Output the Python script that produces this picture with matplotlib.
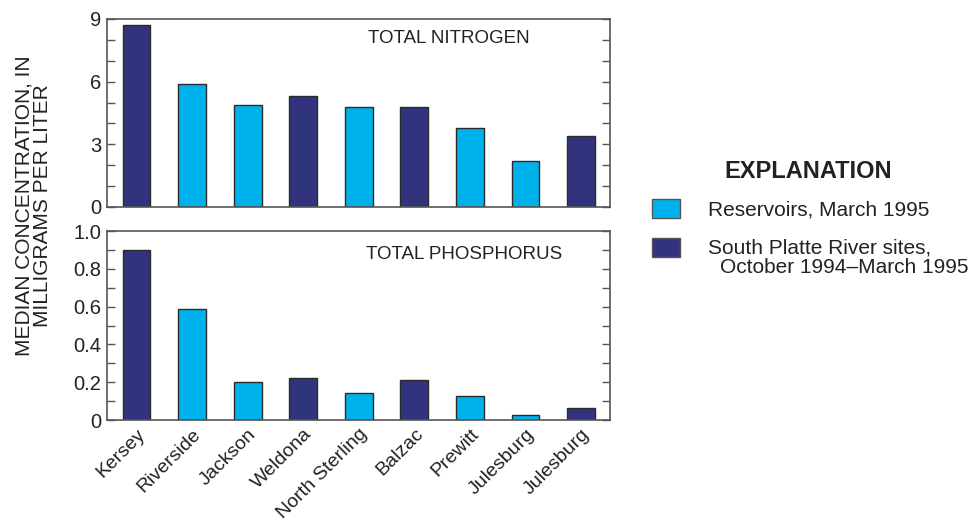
import numpy as np
import matplotlib.pyplot as plt
from matplotlib.patches import Rectangle
from matplotlib.ticker import MultipleLocator, FuncFormatter

plt.rcParams['font.family'] = ['Liberation Sans', 'DejaVu Sans']

sites = ['Kersey', 'Riverside', 'Jackson', 'Weldona', 'North Sterling',
         'Balzac', 'Prewitt', 'Julesburg', 'Julesburg']
site_type = ['river', 'reservoir', 'reservoir', 'river', 'reservoir',
             'river', 'reservoir', 'reservoir', 'river']
nitrogen = [8.7, 5.9, 4.9, 5.3, 4.8, 4.8, 3.8, 2.2, 3.4]
phosphorus = [0.90, 0.59, 0.20, 0.22, 0.145, 0.21, 0.125, 0.025, 0.065]

light = '#00b2ec'
dark = '#31347c'
edge = '#2a2a2a'
spine_col = '#555555'
txt = '#222222'

colors = [dark if t == 'river' else light for t in site_type]
x = np.arange(len(sites))

fig = plt.figure(figsize=(9.74, 5.29), dpi=100)
ax1 = fig.add_axes([0.1099, 0.6087, 0.5164, 0.3554])
ax2 = fig.add_axes([0.1099, 0.2060, 0.5164, 0.3573])

for ax, vals in [(ax1, nitrogen), (ax2, phosphorus)]:
    ax.bar(x, vals, width=0.5, color=colors, edgecolor=edge, linewidth=1.0, zorder=2)
    ax.set_xlim(-0.53, 8.52)
    for s in ax.spines.values():
        s.set_color(spine_col)
        s.set_linewidth(1.2)
    ax.tick_params(axis='y', which='both', direction='in', length=6, width=1.0,
                   color=spine_col, right=True, labelsize=14.5, labelcolor=txt, pad=4)
    ax.tick_params(axis='x', length=0)

ax1.set_ylim(0, 9)
ax1.yaxis.set_major_locator(MultipleLocator(3))
ax1.yaxis.set_minor_locator(MultipleLocator(1))
ax1.set_xticks([])
ax1.text(0.679, 0.894, 'TOTAL NITROGEN', transform=ax1.transAxes, ha='center',
         va='center', fontsize=13.5, color=txt)

ax2.set_ylim(0, 1.0)
ax2.yaxis.set_major_locator(MultipleLocator(0.2))
ax2.yaxis.set_minor_locator(MultipleLocator(0.1))
ax2.yaxis.set_major_formatter(FuncFormatter(lambda v, p: '0' if abs(v) < 1e-9 else f'{v:.1f}'))
ax2.text(0.709, 0.878, 'TOTAL PHOSPHORUS', transform=ax2.transAxes, ha='center',
         va='center', fontsize=13.5, color=txt)
ax2.set_xticks(x)
ax2.set_xticklabels(sites, rotation=45, ha='right', rotation_mode='anchor',
                    fontsize=14, color=txt)
ax2.tick_params(axis='x', pad=4)

fig.text(0.034, 0.611, 'MEDIAN CONCENTRATION, IN\nMILLIGRAMS PER LITER', rotation=90,
         ha='center', va='center', fontsize=15, color=txt, linespacing=1.0)

# explanation, drawn by hand so the boxes line up with the first text line
fig.text(0.8296, 0.6767, 'EXPLANATION', ha='center', va='center', fontsize=17,
         fontweight='bold', color=txt)
fig.patches.append(Rectangle((0.6694, 0.5879), 0.02875, 0.0359, facecolor=light,
                             edgecolor=spine_col, linewidth=1.0, transform=fig.transFigure))
fig.patches.append(Rectangle((0.6694, 0.5142), 0.02875, 0.0359, facecolor=dark,
                             edgecolor=spine_col, linewidth=1.0, transform=fig.transFigure))
fig.text(0.7269, 0.603, 'Reservoirs, March 1995', ha='left', va='center',
         fontsize=15, color=txt)
fig.text(0.7269, 0.5312, 'South Platte River sites,', ha='left', va='center',
         fontsize=15, color=txt)
fig.text(0.7392, 0.4934, 'October 1994\u2013March 1995', ha='left', va='center',
         fontsize=15, color=txt)

fig.savefig('out.png', dpi=100)
